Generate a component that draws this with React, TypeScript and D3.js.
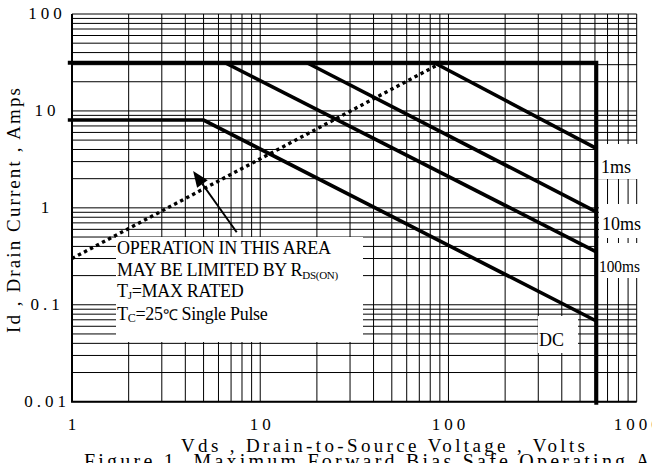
import React, { useEffect, useRef } from 'react';
import * as d3 from 'd3';

// axis ticks
const xTicks = [1, 10, 100, 1000];
const xTickLabels = ['1', '10', '100', '1000'];
const yTicks = [100, 10, 1, 0.1, 0.01];
const yTickLabels = ['100', '10', '1', '0.1', '0.01'];

// SOA boundaries (Vds volts, Id amps)
const limitV = [0.95, 610, 610];
const limitI = [31.4, 31.4, 0.0093];
const dcV = [0.95, 5, 610];
const dcI = [8.05, 8.05, 0.068];
const p100msV = [6.5, 610];
const p100msI = [31.4, 0.352];
const p10msV = [17.7, 610];
const p10msI = [31.4, 0.91];
const p1msV = [84, 610];
const p1msI = [31.4, 4.1];
const rdsV = [1, 88];
const rdsI = [0.3, 30];
const arrowV = [7.5, 4.4];
const arrowI = [0.56, 2.4];

const FONT = '"Liberation Serif", "Times New Roman", serif';

const App: React.FC = () => {
  const ref = useRef<SVGSVGElement>(null);
  const W = 652;
  const H = 463;
  const left = 72;
  const right = 636.7;
  const top = 14;
  const bottom = 401.7;

  useEffect(() => {
    if (!ref.current) return;
    const svg = d3.select(ref.current);
    svg.selectAll('*').remove();

    const x = d3.scaleLog().domain([1, 1000]).range([left, right]);
    const y = d3.scaleLog().domain([0.01, 100]).range([bottom, top]);

    const xGrid = d3
      .range(0, 3)
      .flatMap((e) => d3.range(1, 10).map((k) => k * Math.pow(10, e)))
      .concat([1000]);
    const yGrid = d3
      .range(-2, 2)
      .flatMap((e) => d3.range(1, 10).map((k) => +(k * Math.pow(10, e)).toPrecision(3)))
      .concat([100]);

    const grid = svg.append('g').attr('stroke', '#000').attr('stroke-width', 1);
    grid
      .selectAll('.vg')
      .data(xGrid)
      .enter()
      .append('line')
      .attr('x1', (d) => x(d))
      .attr('x2', (d) => x(d))
      .attr('y1', top)
      .attr('y2', bottom);
    grid
      .selectAll('.hg')
      .data(yGrid)
      .enter()
      .append('line')
      .attr('x1', left)
      .attr('x2', right)
      .attr('y1', (d) => y(d))
      .attr('y2', (d) => y(d));

    // white boxes behind the annotations
    const boxes = [
      { x: 116, y: 237, w: 247, h: 105 },
      { x: 598, y: 144, w: 54, h: 35 },
      { x: 599, y: 204, w: 53, h: 34 },
      { x: 598, y: 243, w: 54, h: 35 },
      { x: 538, y: 316, w: 40, h: 37 },
    ];
    svg
      .selectAll('.box')
      .data(boxes)
      .enter()
      .append('rect')
      .attr('x', (d) => d.x)
      .attr('y', (d) => d.y)
      .attr('width', (d) => d.w)
      .attr('height', (d) => d.h)
      .attr('fill', '#fff');

    // frame
    svg
      .append('path')
      .attr('d', `M${left},${top}V${bottom}H${right}`)
      .attr('fill', 'none')
      .attr('stroke', '#000')
      .attr('stroke-width', 2);

    const line = d3
      .line<[number, number]>()
      .x((d) => x(d[0]))
      .y((d) => y(d[1]));
    const pts = (vs: number[], is: number[]) =>
      vs.map((v, i) => [v, is[i]] as [number, number]);

    const curves = [
      { v: limitV, i: limitI, w: 4 },
      { v: dcV, i: dcI, w: 3.6 },
      { v: p100msV, i: p100msI, w: 3.6 },
      { v: p10msV, i: p10msI, w: 3.6 },
      { v: p1msV, i: p1msI, w: 3.6 },
    ];
    curves.forEach((c) => {
      svg
        .append('path')
        .datum(pts(c.v, c.i))
        .attr('fill', 'none')
        .attr('stroke', '#000')
        .attr('stroke-width', c.w)
        .attr('d', line);
    });

    svg
      .append('path')
      .datum(pts(rdsV, rdsI))
      .attr('fill', 'none')
      .attr('stroke', '#000')
      .attr('stroke-width', 3.4)
      .attr('stroke-dasharray', '3.4,3.4')
      .attr('d', line);

    // arrow
    const ax0 = x(arrowV[0]);
    const ay0 = y(arrowI[0]);
    const ax1 = x(arrowV[1]);
    const ay1 = y(arrowI[1]);
    const ang = Math.atan2(ay1 - ay0, ax1 - ax0);
    const hl = 16;
    const hw = 6.5;
    const bx = ax1 - hl * Math.cos(ang);
    const by = ay1 - hl * Math.sin(ang);
    svg
      .append('line')
      .attr('x1', ax0)
      .attr('y1', ay0)
      .attr('x2', bx)
      .attr('y2', by)
      .attr('stroke', '#000')
      .attr('stroke-width', 2);
    svg
      .append('path')
      .attr(
        'd',
        `M${ax1},${ay1}L${bx + hw * Math.sin(ang)},${by - hw * Math.cos(ang)}L${
          bx - hw * Math.sin(ang)
        },${by + hw * Math.cos(ang)}Z`
      )
      .attr('fill', '#000');

    // tick labels
    svg
      .selectAll('.xt')
      .data(xTicks)
      .enter()
      .append('text')
      .attr('x', (d) => x(d) + 2)
      .attr('y', 430)
      .attr('text-anchor', 'middle')
      .style('letter-spacing', '4px')
      .attr('font-size', 17)
      .attr('font-family', FONT)
      .text((d, i) => xTickLabels[i]);
    svg
      .selectAll('.yt')
      .data(yTicks)
      .enter()
      .append('text')
      .attr('x', 47)
      .attr('y', (d) => y(d) + 5)
      .attr('text-anchor', 'middle')
      .style('letter-spacing', '4px')
      .attr('font-size', 17)
      .attr('font-family', FONT)
      .text((d, i) => yTickLabels[i]);

    // axis titles
    svg
      .append('text')
      .attr('x', 181)
      .attr('y', 452)
      .attr('font-size', 19)
      .attr('font-family', FONT)
      .attr('textLength', 404)
      .attr('lengthAdjust', 'spacing')
      .text('Vds , Drain-to-Source Voltage , Volts');
    svg
      .append('text')
      .attr('transform', 'translate(20,210.5) rotate(-90)')
      .attr('text-anchor', 'middle')
      .attr('font-size', 19)
      .attr('font-family', FONT)
      .attr('textLength', 245)
      .attr('lengthAdjust', 'spacing')
      .text('Id , Drain Current , Amps');
    svg
      .append('text')
      .attr('x', 84)
      .attr('y', 468)
      .attr('font-size', 20)
      .attr('font-family', FONT)
      .attr('textLength', 600)
      .attr('lengthAdjust', 'spacing')
      .text('Figure 1. Maximum Forward Bias Safe Operating Area');

    // pulse labels
    const lab = (t: string, lx: number, ly: number, fs: number, tl?: number) => {
      const el = svg
        .append('text')
        .attr('x', lx)
        .attr('y', ly)
        .attr('font-size', fs)
        .attr('font-family', FONT)
        .text(t);
      if (tl) el.attr('textLength', tl).attr('lengthAdjust', 'spacingAndGlyphs');
    };
    lab('1ms', 601, 173, 18);
    lab('10ms', 602, 230, 18);
    lab('100ms', 599, 272, 17, 41);
    lab('DC', 539, 346, 18);

    // note block
    const note = svg
      .append('g')
      .attr('font-family', FONT)
      .attr('font-size', 18)
      .style('letter-spacing', '-0.3px')
      .style('white-space', 'pre');
    note.append('text').attr('x', 117).attr('y', 254).text('OPERATION IN THIS AREA');
    const l2 = note.append('text').attr('x', 117).attr('y', 275.5);
    l2.append('tspan').text('MAY BE LIMITED BY R');
    l2.append('tspan').attr('font-size', 11).attr('dy', 3).text('DS(ON)');
    const l3 = note.append('text').attr('x', 117).attr('y', 297);
    l3.append('tspan').text('T');
    l3.append('tspan').attr('font-size', 11).attr('dy', 2).text('J');
    l3.append('tspan').attr('dy', -2).text('=MAX RATED');
    const l4 = note.append('text').attr('x', 117).attr('y', 319.5);
    l4.append('tspan').text('T');
    l4.append('tspan').attr('font-size', 12).attr('dy', 2).text('C');
    l4.append('tspan').attr('dy', -2).text('=25');
    l4.append('tspan').attr('font-size', 15).text('\u2103');
    l4.append('tspan').text('  Single Pulse');
  }, []);

  return (
    <svg
      ref={ref}
      width={W}
      height={H}
      style={{ position: 'absolute', left: 0, top: 0, background: '#fff' }}
    />
  );
};

export default App;
